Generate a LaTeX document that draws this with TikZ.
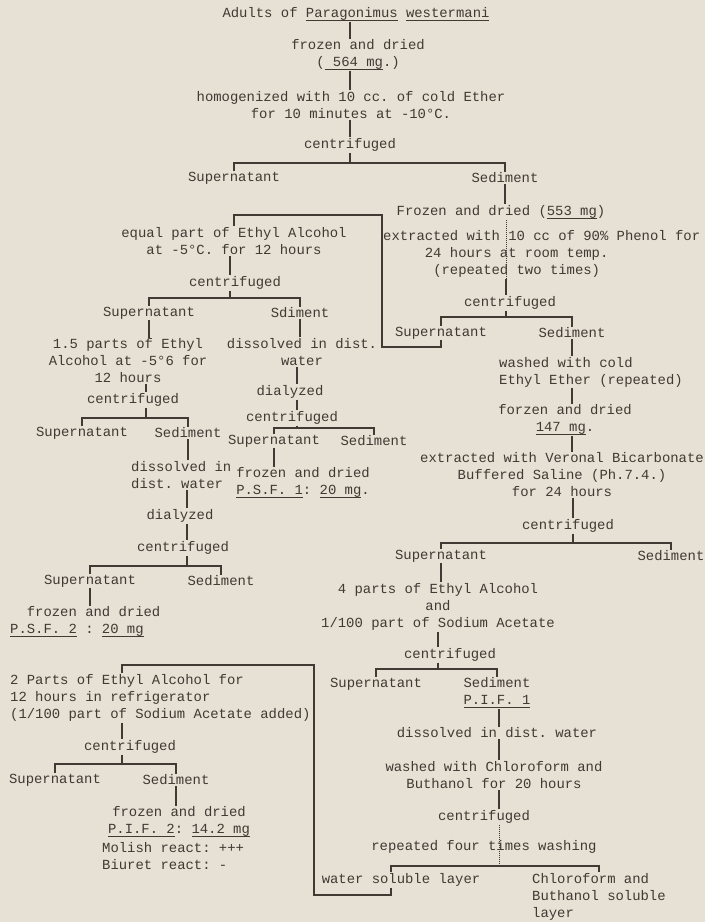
\documentclass[tikz,border=0pt]{standalone}
\usepackage{fontspec}
\setmonofont{Liberation Mono}
\definecolor{paper}{RGB}{231,224,212}
\definecolor{ink}{RGB}{64,58,52}
\newcommand{\undl}[1]{\setbox0=\hbox{#1}\rlap{\rule[-3.5pt]{\wd0}{0.9pt}}\box0\relax}

\begin{document}
\begin{tikzpicture}[
  x=1pt, y=-1pt,
  txt/.style={inner sep=1pt, text=ink, align=center, font=\ttfamily\fontsize{13.9}{17}\selectfont},
  lft/.style={txt, align=left, anchor=west},
  link/.style={draw=ink, line width=1.4pt},
  faint/.style={draw=ink, densely dotted, line width=1pt}
]
  \useasboundingbox (0,0) rectangle (705,922);
  \fill[paper] (0,0) rectangle (705,922);

  % Start material
  \node[txt] (adults) at (356,14) {Adults of \undl{Paragonimus} \undl{westermani}};
  \node[txt] (frozen) at (358,55) {frozen and dried\\(\undl{\ 564 mg}.)};
  \node[txt] (homog) at (351,105) {homogenized with 10 cc. of cold Ether\\for 10 minutes at -10°C.};
  \node[txt] (cf1) at (350,145) {centrifuged};
  \node[txt] (sup1) at (234,178) {Supernatant};
  \node[txt] (sed1) at (505,178) {Sediment};
  \coordinate (b1) at (350,163);

  % Phenol extraction
  \node[txt] (fd553) at (501,212) {Frozen and dried (\undl{553 mg})};
  \node[lft] (phenol) at (382,254) {extracted with 10 cc of 90\% Phenol for\\\hphantom{00000}24 hours at room temp.\\\hphantom{000000}(repeated two times)};
  \node[txt] (cf3) at (510,303) {centrifuged};
  \node[txt] (sup3) at (441,333) {Supernatant};
  \node[txt] (sed3) at (572,333) {Sediment};
  \coordinate (b3) at (506,317);

  % Veronal extraction
  \node[lft] (wash) at (498,372) {washed with cold\\Ethyl Ether (repeated)};
  \node[txt] (fd147) at (565,420) {forzen and dried\\\undl{147 mg}.};
  \node[txt] (veronal) at (562,475) {extracted with Veronal Bicarbonate\\Buffered Saline (Ph.7.4.)\\for 24 hours};
  \node[txt] (cf4) at (568,526) {centrifuged};
  \node[txt] (sup4) at (441,556) {Supernatant};
  \node[txt] (sed4) at (671,556) {Sediment};
  \coordinate (b4) at (573,543);

  \node[txt] (etoh) at (438,607) {4 parts of Ethyl Alcohol\\and\\1/100 part of Sodium Acetate};
  \node[txt] (cf5) at (450,655) {centrifuged};
  \node[txt] (sup5) at (376,684) {Supernatant};
  \node[txt] (sed5) at (497,693) {Sediment\\\undl{P.I.F. 1}};
  \coordinate (b5) at (438,669);

  \node[txt] (diss5) at (497,733) {dissolved in dist. water};
  \node[txt] (chloro) at (494,775) {washed with Chloroform and\\Buthanol for 20 hours};
  \node[txt] (cf6) at (484,817) {centrifuged};
  \node[txt] (rep) at (484,847) {repeated four times washing};
  \node[txt] (water) at (401,880) {water soluble layer};
  \node[lft] (chsol) at (531,897) {Chloroform and\\Buthanol soluble\\layer};
  \coordinate (b6) at (499,866);
  \coordinate (w) at (391,895);

  % Ethanol fractions
  \node[txt] (equal) at (234,241) {equal part of Ethyl Alcohol\\at -5°C. for 12 hours};
  \node[txt] (cf2) at (235,283) {centrifuged};
  \node[txt] (sup2) at (149,313) {Supernatant};
  \node[txt] (sed2) at (300,313) {Sdiment};
  \coordinate (b2) at (230,298);

  \node[txt] (p15) at (128,361) {1.5 parts of Ethyl\\Alcohol at -5°6 for\\12 hours};
  \node[txt] (cf2b) at (133,400) {centrifuged};
  \node[txt] (sup2b) at (82,433) {Supernatant};
  \node[txt] (sed2b) at (188,433) {Sediment};
  \coordinate (b2b) at (146,418);
  \node[lft] (diss2b) at (130,475) {dissolved in\\dist. water};
  \node[txt] (dial2b) at (180,516) {dialyzed};
  \node[txt] (cf2c) at (183,548) {centrifuged};
  \node[txt] (sup2c) at (90,581) {Supernatant};
  \node[txt] (sed2c) at (221,581) {Sediment};
  \coordinate (b2c) at (187,566);
  \node[lft] (psf2) at (9,622) {\hphantom{00}frozen and dried\\\undl{P.S.F. 2} : \undl{20 mg}};

  \node[txt] (diss2) at (302,352) {dissolved in dist.\\water};
  \node[txt] (dial2) at (290,392) {dialyzed};
  \node[txt] (cf2d) at (292,418) {centrifuged};
  \node[txt] (sup2d) at (274,441) {Supernatant};
  \node[txt] (sed2d) at (374,441) {Sediment};
  \coordinate (b2d) at (297,428);
  \node[txt] (psf1) at (303,483) {frozen and dried\\\undl{P.S.F. 1}: \undl{20 mg}.};

  % Insoluble fraction
  \node[lft] (parts2) at (9,698) {2 Parts of Ethyl Alcohol for\\12 hours in refrigerator\\(1/100 part of Sodium Acetate added)};
  \node[txt] (cf7) at (130,747) {centrifuged};
  \node[txt] (sup7) at (55,780) {Supernatant};
  \node[txt] (sed7) at (176,780) {Sediment};
  \coordinate (b7) at (122,764);
  \node[txt] (pif2) at (179,822) {frozen and dried\\\undl{P.I.F. 2}: \undl{14.2 mg}};
  \node[lft] (react) at (101,856) {Molish react: +++\\Biuret react: -};

  % Lines
  \draw[link] (adults.south -| b1) -- (frozen.north -| b1);
  \draw[link] (frozen.south -| b1) -- (homog.north -| b1);
  \draw[link] (homog.south -| b1) -- (cf1.north -| b1);
  \draw[link] (cf1) -- (b1);
  \draw[link] (sup1) |- (b1) -| (sed1);

  \draw[link] (sed1) -- (sed1 |- fd553.north);
  \draw[faint] (fd553.south -| b3) -- (phenol.south -| b3);
  \draw[link] (phenol.south -| b3) -- (cf3.north -| b3);
  \draw[link] (cf3.south -| b3) -- (b3);
  \draw[link] (sup3) |- (b3) -| (sed3);
  \draw[link] (sup3.south) |- (382,347) -- (382,215) -| (equal.north);

  \draw[link] (sed3) -- (sed3 |- wash.north);
  \draw[link] (wash.south -| sed3) -- (fd147.north -| sed3);
  \draw[link] (fd147.south -| sed3) -- (veronal.north -| sed3);
  \draw[link] (veronal.south -| b4) -- (cf4.north -| b4);
  \draw[link] (cf4.south -| b4) -- (b4);
  \draw[link] (sup4) |- (b4) -| (sed4);

  \draw[link] (sup4) -- (sup4 |- etoh.north);
  \draw[link] (etoh.south -| b5) -- (cf5.north -| b5);
  \draw[link] (cf5.south -| b5) -- (b5);
  \draw[link] (sup5) |- (b5) -| (sed5);
  \draw[link] (sed5.south -| b6) -- (diss5.north -| b6);
  \draw[link] (diss5.south -| b6) -- (chloro.north -| b6);
  \draw[link] (chloro.south -| b6) -- (cf6.north -| b6);
  \draw[faint] (cf6.south -| b6) -- (b6);
  \draw[link] (water.north -| w) |- (b6) -| (chsol);
  \draw[link] (water.south -| w) -- (w) -| (314,665) -| (parts2.north -| b7);

  \draw[link] (equal.south -| b2) -- (cf2.north -| b2);
  \draw[link] (cf2.south -| b2) -- (b2);
  \draw[link] (sup2) |- (b2) -| (sed2);
  \draw[link] (sup2) -- (sup2 |- p15.north);
  \draw[link] (p15.south -| b2b) -- (cf2b.north -| b2b);
  \draw[link] (cf2b.south -| b2b) -- (b2b);
  \draw[link] (sup2b) |- (b2b) -| (sed2b);
  \draw[link] (sed2b) -- (sed2b |- diss2b.north);
  \draw[link] (diss2b.south -| b2c) -- (dial2b.north -| b2c);
  \draw[link] (dial2b.south -| b2c) -- (cf2c.north -| b2c);
  \draw[link] (cf2c.south -| b2c) -- (b2c);
  \draw[link] (sup2c) |- (b2c) -| (sed2c);
  \draw[link] (sup2c) -- (sup2c |- psf2.north);

  \draw[link] (sed2) -- (sed2 |- diss2.north);
  \draw[link] (diss2.south -| b2d) -- (dial2.north -| b2d);
  \draw[link] (dial2.south -| b2d) -- (cf2d.north -| b2d);
  \draw[link] (cf2d.south -| b2d) -- (b2d);
  \draw[link] (sup2d) |- (b2d) -| (sed2d);
  \draw[link] (sup2d) -- (sup2d |- psf1.north);

  \draw[link] (parts2.south -| b7) -- (cf7.north -| b7);
  \draw[link] (cf7.south -| b7) -- (b7);
  \draw[link] (sup7) |- (b7) -| (sed7);
  \draw[link] (sed7) -- (sed7 |- pif2.north);
\end{tikzpicture}
\end{document}
